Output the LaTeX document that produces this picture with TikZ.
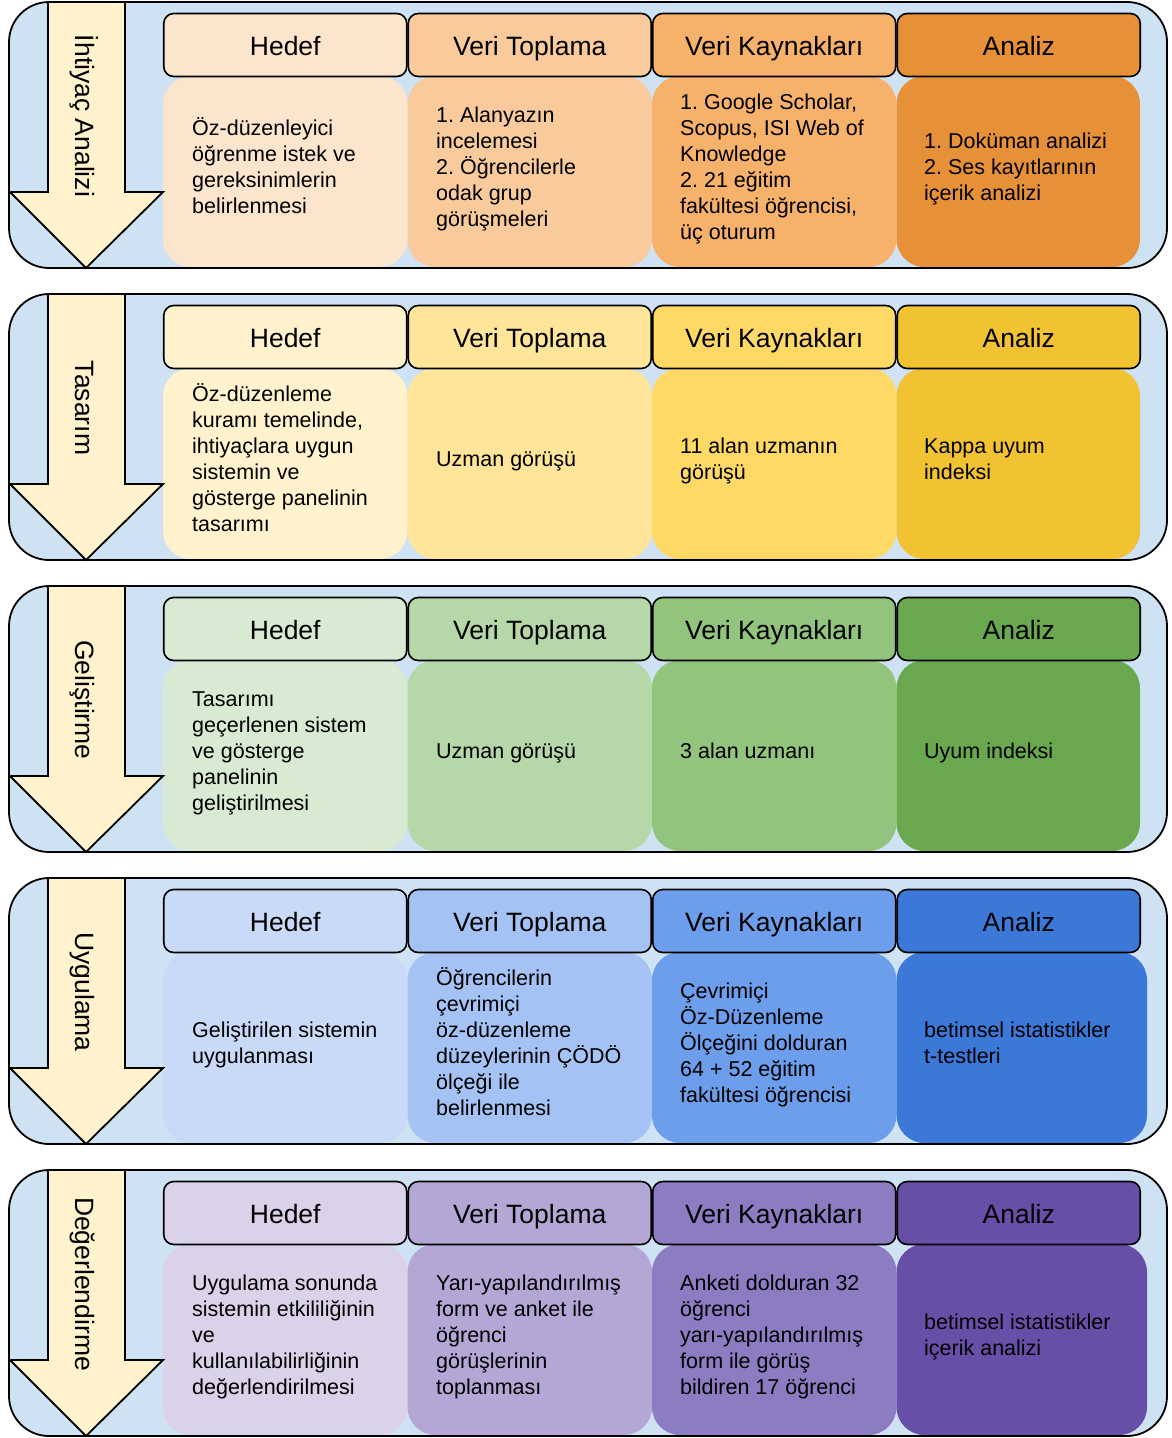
\documentclass[tikz,border=0pt]{standalone}
\usepackage{fontspec}
\setmainfont{Liberation Sans}
\definecolor{obg}{HTML}{CFE2F3}
\definecolor{arrowc}{HTML}{FFF2CC}
\definecolor{oA}{HTML}{FCE5CD}\definecolor{oB}{HTML}{F9CB9C}\definecolor{oC}{HTML}{F6B26B}\definecolor{oD}{HTML}{E69138}
\definecolor{yA}{HTML}{FFF2CC}\definecolor{yB}{HTML}{FFE599}\definecolor{yC}{HTML}{FFD966}\definecolor{yD}{HTML}{F1C232}
\definecolor{gA}{HTML}{D9EAD3}\definecolor{gB}{HTML}{B6D7A8}\definecolor{gC}{HTML}{93C47D}\definecolor{gD}{HTML}{6AA84F}
\definecolor{bA}{HTML}{C9DAF8}\definecolor{bB}{HTML}{A4C2F4}\definecolor{bC}{HTML}{6D9EEB}\definecolor{bD}{HTML}{3C78D8}
\definecolor{pA}{HTML}{D9D2E9}\definecolor{pB}{HTML}{B4A7D6}\definecolor{pC}{HTML}{8E7CC3}\definecolor{pD}{HTML}{674EA7}
\newcommand\tlines[1]{\vtop{\frenchspacing\baselineskip=26pt\lineskiplimit=-50pt\lineskip=0pt\halign{##\hfil\cr#1\crcr}}}
\newcommand\PhaseRow[8]{%
 \fill[obg, rounded corners=40pt] (9,#1) rectangle (1167,#1+266);
 \fill[#4, bodybox] (163,#1+74) rectangle (407.5,#1+265);
 \fill[#5, bodybox] (407.5,#1+74) rectangle (652,#1+265);
 \fill[#6, bodybox] (652,#1+74) rectangle (896.5,#1+265);
 \fill[#7, bodybox] (896.5,#1+74) rectangle (#8,#1+265);
 \draw[frame] (9,#1) rectangle (1167,#1+266);
 \node[hdr, fill=#4] (#2h1) at (285.25,#1+43) {Hedef};
 \node[hdr, fill=#5] (#2h2) at (529.75,#1+43) {Veri Toplama};
 \node[hdr, fill=#6] (#2h3) at (774.25,#1+43) {Veri Kaynakları};
 \node[hdr, fill=#7] (#2h4) at (1018.75,#1+43) {Analiz};
 \draw[arrowbox] (48,#1) -- (48,#1+190) -- (10,#1+190) -- (86,#1+266) -- (163,#1+190) -- (125,#1+190) -- (125,#1) -- cycle;
 \node[lbl] (#2lab) at (75,#1+114) {#3};
}
\newcommand\BT[5]{\node[btext] (#1) at (#2,#3+172-#4*13+13) {\tlines{#5}};}
\begin{document}
\begin{tikzpicture}[x=1pt,y=-1pt,
  frame/.style={draw=black, line width=1.8pt, rounded corners=40pt},
  bodybox/.style={rounded corners=28pt},
  hdr/.style={draw=black, line width=1.6pt, rounded corners=10pt, minimum width=243pt, minimum height=63pt, inner sep=0pt, outer sep=0pt, text height=23pt, text depth=2pt, font=\fontsize{26.5}{30}\selectfont},
  btext/.style={anchor=base west, inner sep=0pt, font=\fontsize{21.5}{26}\selectfont},
  lbl/.style={rotate=-90, anchor=base, inner sep=0pt, font=\fontsize{26.5}{30}\selectfont},
  arrowbox/.style={draw=black, line width=1.8pt, fill=arrowc, line join=miter}]
\useasboundingbox (0,0) rectangle (1171,1438);
\fill[white] (0,0) rectangle (1171,1438);
% Row 1
\PhaseRow{2}{ra}{İhtiyaç Analizi}{oA}{oB}{oC}{oD}{1140}
\BT{ra1}{192}{2}{4}{Öz-düzenleyici\cr öğrenme istek ve\cr gereksinimlerin\cr belirlenmesi}
\BT{ra2}{436}{2}{5}{1. Alanyazın\cr incelemesi\cr 2. Öğrencilerle\cr odak grup\cr görüşmeleri}
\BT{ra3}{680}{2}{6}{1. Google Scholar,\cr Scopus, ISI Web of\cr Knowledge\cr 2. 21 eğitim\cr fakültesi öğrencisi,\cr üç oturum}
\BT{ra4}{924}{2}{3}{1. Doküman analizi\cr 2. Ses kayıtlarının\cr içerik analizi}
% Row 2
\PhaseRow{294}{rb}{Tasarım}{yA}{yB}{yC}{yD}{1140}
\BT{rb1}{192}{294}{6}{Öz-düzenleme\cr kuramı temelinde,\cr ihtiyaçlara uygun\cr sistemin ve\cr gösterge panelinin\cr tasarımı}
\BT{rb2}{436}{294}{1}{Uzman görüşü}
\BT{rb3}{680}{294}{2}{11 alan uzmanın\cr görüşü}
\BT{rb4}{924}{294}{2}{Kappa uyum\cr indeksi}
% Row 3
\PhaseRow{586}{rc}{Geliştirme}{gA}{gB}{gC}{gD}{1140}
\BT{rc1}{192}{586}{5}{Tasarımı\cr geçerlenen sistem\cr ve gösterge\cr panelinin\cr geliştirilmesi}
\BT{rc2}{436}{586}{1}{Uzman görüşü}
\BT{rc3}{680}{586}{1}{3 alan uzmanı}
\BT{rc4}{924}{586}{1}{Uyum indeksi}
% Row 4
\PhaseRow{878}{rd}{Uygulama}{bA}{bB}{bC}{bD}{1147}
\BT{rd1}{192}{878}{2}{Geliştirilen sistemin\cr uygulanması}
\BT{rd2}{436}{878}{6}{Öğrencilerin\cr çevrimiçi\cr öz-düzenleme\cr düzeylerinin ÇÖDÖ\cr ölçeği ile\cr belirlenmesi}
\BT{rd3}{680}{878}{5}{Çevrimiçi\cr Öz-Düzenleme\cr Ölçeğini dolduran\cr 64 + 52 eğitim\cr fakültesi öğrencisi}
\BT{rd4}{924}{878}{2}{betimsel istatistikler\cr t-testleri}
% Row 5
\PhaseRow{1170}{re}{Değerlendirme}{pA}{pB}{pC}{pD}{1147}
\BT{re1}{192}{1170}{5}{Uygulama sonunda\cr sistemin etkililiğinin\cr ve\cr kullanılabilirliğinin\cr değerlendirilmesi}
\BT{re2}{436}{1170}{5}{Yarı-yapılandırılmış\cr form ve anket ile\cr öğrenci\cr görüşlerinin\cr toplanması}
\BT{re3}{680}{1170}{5}{Anketi dolduran 32\cr öğrenci\cr yarı-yapılandırılmış\cr form ile görüş\cr bildiren 17 öğrenci}
\BT{re4}{924}{1170}{2}{betimsel istatistikler\cr içerik analizi}
\end{tikzpicture}
\end{document}
